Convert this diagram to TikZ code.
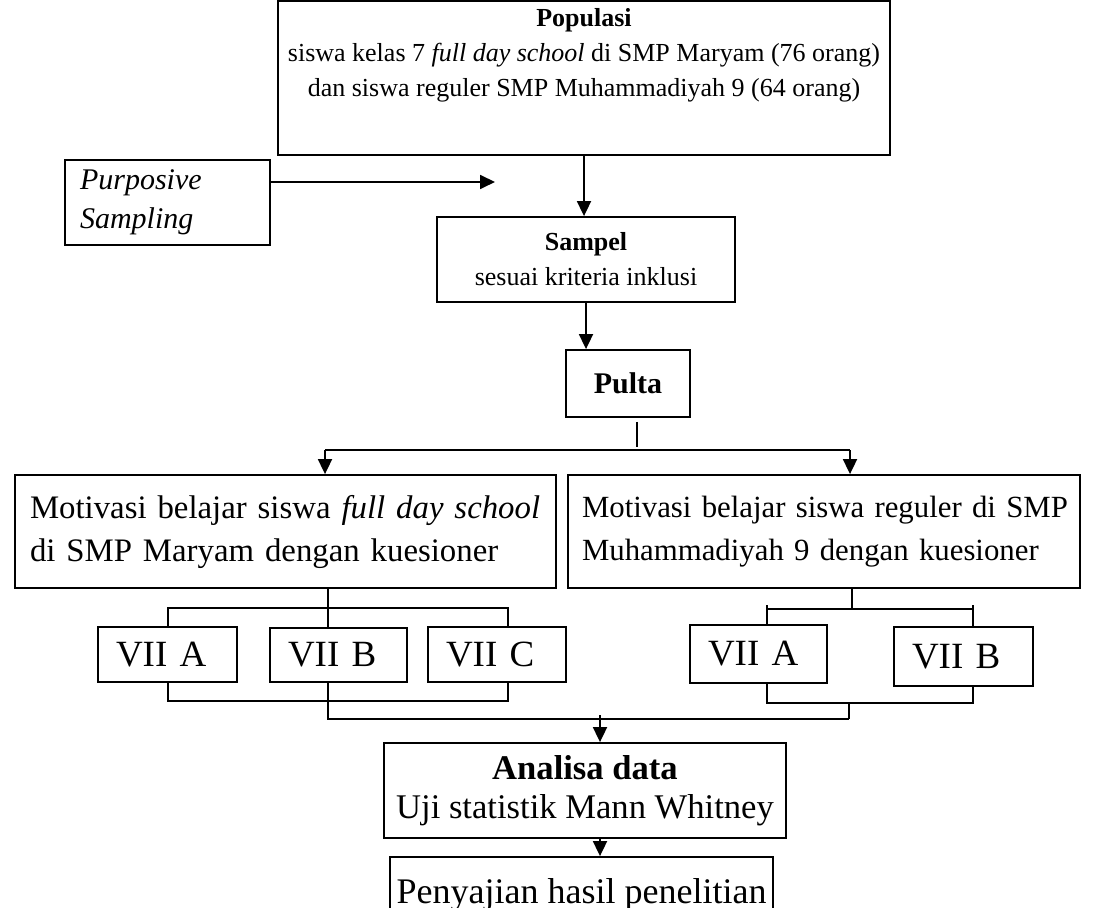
\documentclass[tikz,border=0pt]{standalone}
\usepackage{fontspec}
\setmainfont{Liberation Serif}
\usetikzlibrary{arrows.meta}
\begin{document}
\begin{tikzpicture}[x=0.5pt,y=-0.5pt, line width=0.9pt,
  box/.style={draw, line width=0.9pt, inner sep=0pt, align=center},
  arr/.style={-{Triangle[length=7.5pt,width=7pt]}},
  fa/.style={font=\fontsize{13}{17.5}\selectfont},
  fc/.style={font=\fontsize{17.3}{19.5}\selectfont},
  vii/.style={box, font=\fontsize{18.5}{20}\selectfont, align=left, inner xsep=9pt}]
\clip (0,0) rectangle (1101,908);

% boxes
\node[box, minimum width=306pt, minimum height=77pt] (pop) at (584,78) {};
\node[fa, align=center, inner sep=0pt] (popt) at (584,55)
  {\textbf{Populasi}\\siswa kelas 7 \textit{full day school} di SMP Maryam (76 orang)\\dan siswa reguler SMP Muhammadiyah 9 (64 orang)};
\node[box, align=left, font=\fontsize{15}{19.5}\selectfont\itshape, text width=87.5pt, inner xsep=7.5pt, minimum height=42.5pt] (purp) at (167.5,202.5)
  {Purposive\\Sampling};
\node[box, fa, minimum width=149pt, minimum height=42.5pt] (samp) at (586,259.5)
  {\textbf{Sampel}\\sesuai kriteria inklusi};
\node[box, font=\fontsize{15}{18}\selectfont\bfseries, minimum width=62pt, minimum height=33.5pt] (pulta) at (628,383.5) {Pulta};
\node[box, font=\fontsize{16.4}{21.5}\selectfont, align=left, text width=255.5pt, inner xsep=7.5pt, minimum height=56.5pt] (mot1) at (285.5,531.5)
  {\mbox{Motivasi belajar siswa \textit{full day school}}\\\mbox{di SMP Maryam dengan kuesioner}};
\node[box, font=\fontsize{15.4}{21.5}\selectfont, align=left, text width=242pt, inner xsep=7pt, minimum height=56.5pt] (mot2) at (824,531.5)
  {\mbox{Motivasi belajar siswa reguler di SMP}\\\mbox{Muhammadiyah 9 dengan kuesioner}};

\node[vii, text width=51.5pt, minimum height=27.5pt] (lvA) at (167.5,654.5) {VII A};
\node[vii, text width=50.5pt, minimum height=27pt] (lvB) at (338.5,655) {VII B};
\node[vii, text width=51pt, minimum height=27.5pt] (lvC) at (497,654.5) {VII C};
\node[vii, text width=50.5pt, minimum height=29pt] (rvA) at (758.5,654) {VII A};
\node[vii, text width=51.5pt, minimum height=29.5pt] (rvB) at (963.5,656.5) {VII B};

\node[box, fc, minimum width=201pt, minimum height=47.5pt] (anal) at (585,790.5)
  {\textbf{Analisa data}\\Uji statistik Mann Whitney};
\node[box, font=\fontsize{18}{21}\selectfont, minimum width=191.5pt, minimum height=38pt] (peny) at (581.5,895)
  {Penyajian hasil penelitian};

% connectors
\coordinate (pe) at (495,182);
\draw[arr] ([yshift=10.25pt]purp.east) -- (pe);
\draw[arr] (pop.south) -- (pop.south |- samp.north);
\draw[arr] (samp.south) -- (samp.south |- pulta.north);
\coordinate (pt1) at (637,422);
\coordinate (pt2) at (637,447);
\draw (pt1) -- (pt2);
\coordinate (hl) at (325,450);
\coordinate (hr) at (850,450);
\draw (hl) -- (hr);
\draw[arr] (hl) -- (hl |- mot1.north);
\draw[arr] (hr) -- (hr |- mot2.north);

% left group
\coordinate (lx) at (328,608);
\draw (lx |- mot1.south) -- (lx |- lvB.north);
\coordinate (la) at (168,608);
\coordinate (lc) at (508,608);
\draw (la |- lvA.north) -- (la) -- (lc) -- (lc |- lvC.north);
\coordinate (lab) at (168,701);
\coordinate (lcb) at (508,701);
\draw (lab |- lvA.south) -- (lab) -- (lcb) -- (lcb |- lvC.south);
\coordinate (lbb) at (328,719);
\coordinate (rbb) at (849,719);
\draw (lbb |- lvB.south) -- (lbb) -- (rbb);

% right group
\coordinate (rx) at (852,609);
\draw (rx |- mot2.south) -- (rx);
\coordinate (ra) at (767,609);
\coordinate (rb) at (973,609);
\draw (ra |- rvA.north) -- (ra) -- (rb) -- (rb |- rvB.north);
\draw ([yshift=2pt]ra) -- (ra);
\draw ([yshift=2pt]rb) -- (rb);
\coordinate (rab) at (767,703);
\coordinate (rbb2) at (973,703);
\draw (rab |- rvA.south) -- (rab) -- (rbb2) -- (rbb2 |- rvB.south);
\coordinate (rm) at (849,703);
\draw (rm) -- (rbb);

% to analysis
\coordinate (ja) at (600,719);
\draw ([yshift=2pt]ja) -- (ja);
\draw[arr] (ja) -- (ja |- anal.north);
\coordinate (a1) at (600,838);
\draw[arr] (a1 |- anal.south) -- (a1 |- peny.north);
\end{tikzpicture}
\end{document}
